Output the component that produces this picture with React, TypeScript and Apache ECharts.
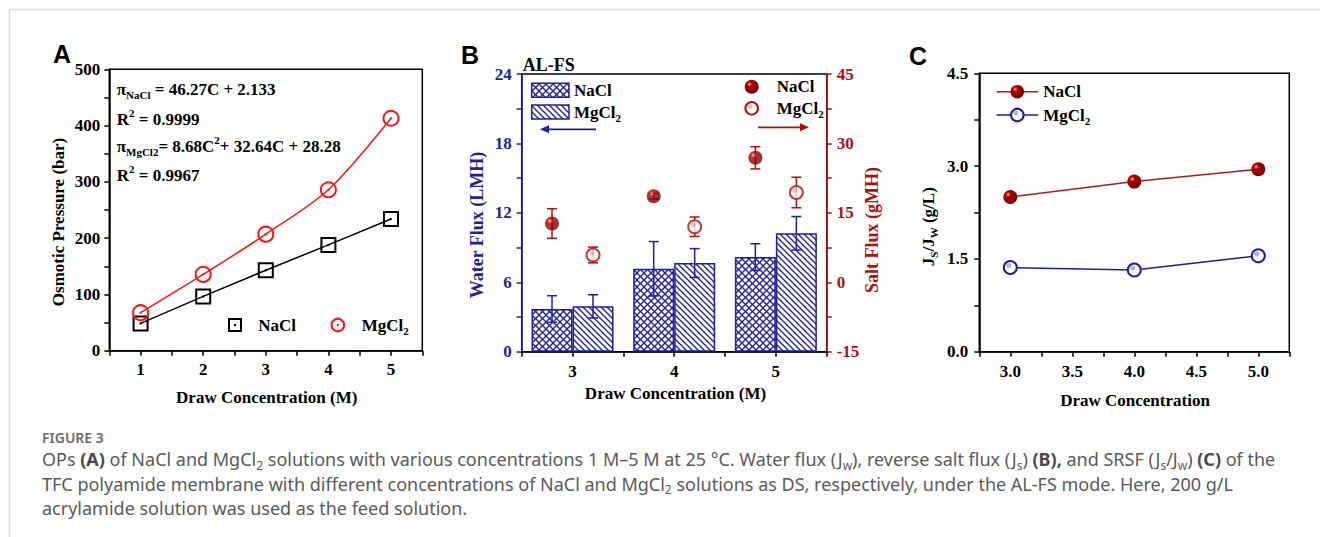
import React, { useEffect, useRef } from 'react';
import * as echarts from 'echarts';

// ---------- data ----------
const concA = [1, 2, 3, 4, 5];
const opNaCl = [48.5, 96.5, 143, 188, 234];
const opMgCl2 = [67.5, 135.5, 207, 286, 413];

const concB = ['3', '4', '5'];
const waterNaCl = [3.69, 7.17, 8.18];
const waterNaClErr = [1.15, 2.35, 1.15];
const waterMgCl2 = [3.92, 7.66, 10.23];
const waterMgCl2Err = [1.0, 1.25, 1.45];
const saltNaCl = [12.7, 18.6, 26.9];
const saltNaClErr = [3.2, 0.6, 2.4];
const saltMgCl2 = [5.9, 12.0, 19.4];
const saltMgCl2Err = [1.7, 2.1, 3.3];

const concC = [3, 4, 5];
const srsfNaCl = [2.5, 2.75, 2.95];
const srsfMgCl2 = [1.36, 1.32, 1.55];

const tickAx = ['1', '2', '3', '4', '5'];
const tickAy = ['0', '100', '200', '300', '400', '500'];
const tickBx = ['3', '4', '5'];
const tickBy = ['0', '6', '12', '18', '24'];
const tickBy2 = ['-15', '0', '15', '30', '45'];
const tickCx = ['3.0', '3.5', '4.0', '4.5', '5.0'];
const tickCy = ['0.0', '1.5', '3.0', '4.5'];

// ---------- styles ----------
const SERIF = '"Liberation Serif", "Times New Roman", Times, serif';
const SANS = '"Liberation Sans", Arial, Helvetica, sans-serif';
const CAP = '"Noto Sans", "Open Sans", sans-serif';
const BLACK = '#000000';
const RED_A = '#ff1414';
const BLUE = '#1f1f9e';
const DRED = '#b00f0f';
const CRED = '#b01a1a';
const CBLUE = '#1c1ca8';

function makeHatch(size: number, cross: boolean, color: string) {
  const c = document.createElement('canvas');
  c.width = size;
  c.height = size;
  const ctx = c.getContext('2d')!;
  ctx.fillStyle = '#ffffff';
  ctx.fillRect(0, 0, size, size);
  ctx.strokeStyle = color;
  ctx.lineWidth = 1.3;
  for (const k of [-1, 0, 1]) {
    ctx.beginPath();
    ctx.moveTo(k * size - 1, -1);
    ctx.lineTo(k * size + size + 1, size + 1);
    ctx.stroke();
    if (cross) {
      ctx.beginPath();
      ctx.moveTo(k * size + size + 1, -1);
      ctx.lineTo(k * size - 1, size + 1);
      ctx.stroke();
    }
  }
  return { image: c, repeat: 'repeat', imageWidth: size, imageHeight: size } as any;
}

function mkAxis(color: string, labels: string[], fmt: (v: number) => string, margin: number) {
  return {
    axisLine: { show: true, onZero: false, lineStyle: { color, width: 1.5 } },
    axisTick: { show: true, length: 5, lineStyle: { color, width: 1.5 } },
    axisLabel: {
      margin,
      color,
      fontFamily: SERIF,
      fontWeight: 'bold',
      fontSize: 17,
      formatter: (v: number) => {
        const s = fmt(v);
        return labels.includes(s) ? s : '';
      },
    },
    splitLine: { show: false },
  };
}

const ball = () =>
  new echarts.graphic.RadialGradient(0.35, 0.32, 0.65, [
    { offset: 0, color: '#f3b0b0' },
    { offset: 0.28, color: '#b00000' },
    { offset: 1, color: '#780000' },
  ]);
const hollow = (hl: string) =>
  new echarts.graphic.RadialGradient(0.38, 0.35, 0.5, [
    { offset: 0, color: hl },
    { offset: 0.3, color: hl },
    { offset: 0.45, color: '#ffffff' },
    { offset: 1, color: '#ffffff' },
  ]);

function rich(size: number, color: string) {
  const sub = Math.round(size * 0.62);
  return {
    n: { fontSize: size, fontFamily: SERIF, fontWeight: 'bold', fill: color, color, lineHeight: size + 6 },
    s: { fontSize: sub, fontFamily: SERIF, fontWeight: 'bold', fill: color, color, lineHeight: sub, verticalAlign: 'bottom' },
    u: { fontSize: sub, fontFamily: SERIF, fontWeight: 'bold', fill: color, color, lineHeight: sub, verticalAlign: 'top' },
  };
}

function txt(x: number, y: number, text: string, o: any = {}) {
  const { rotation, ...style } = o;
  const el: any = {
    type: 'text',
    x,
    y,
    z: 20,
    style: {
      text,
      fontFamily: SERIF,
      fontWeight: 'bold',
      fontSize: 17,
      fill: '#000',
      align: 'left',
      verticalAlign: 'middle',
      ...style,
    },
  };
  if (rotation !== undefined) el.rotation = rotation;
  return el;
}

function errRender(offset: number, color: string) {
  return (params: any, api: any) => {
    const x = api.value(0);
    const lo = api.coord([x, api.value(1)]);
    const hi = api.coord([x, api.value(2)]);
    const cx = lo[0] + offset;
    const cap = 5;
    const st = { stroke: color, lineWidth: 1.5 };
    return {
      type: 'group',
      children: [
        { type: 'line', shape: { x1: cx, y1: lo[1], x2: cx, y2: hi[1] }, style: st },
        { type: 'line', shape: { x1: cx - cap, y1: hi[1], x2: cx + cap, y2: hi[1] }, style: st },
        { type: 'line', shape: { x1: cx - cap, y1: lo[1], x2: cx + cap, y2: lo[1] }, style: st },
      ],
    };
  };
}

function buildOption() {
  const crossPat = makeHatch(7, true, BLUE);
  const diagPat = makeHatch(6, false, BLUE);
  const crossPat2 = makeHatch(7, true, BLUE);
  const diagPat2 = makeHatch(6, false, BLUE);

  const graphic: any[] = [
    // page frame
    { type: 'line', shape: { x1: 10, y1: 9.5, x2: 1320, y2: 9.5 }, style: { stroke: '#dcdcdc', lineWidth: 1.5 } },
    { type: 'line', shape: { x1: 9.5, y1: 9.5, x2: 9.5, y2: 537 }, style: { stroke: '#dcdcdc', lineWidth: 1.5 } },
    // panel letters
    txt(53, 54, 'A', { fontFamily: SANS, fontSize: 25 }),
    txt(461, 55, 'B', { fontFamily: SANS, fontSize: 25 }),
    txt(909, 56, 'C', { fontFamily: SANS, fontSize: 25 }),

    // ---- panel A ----
    txt(116.7, 89.3, '{n|π}{s|NaCl}{n| = 46.27C + 2.133}', { rich: rich(17, '#000') }),
    txt(116.7, 119, '{n|R}{u|2}{n| = 0.9999}', { rich: rich(17, '#000') }),
    txt(116.7, 146, '{n|π}{s|MgCl2}{n|= 8.68C}{u|2}{n|+ 32.64C + 28.28}', { rich: rich(17, '#000') }),
    txt(116.7, 175, '{n|R}{u|2}{n| = 0.9967}', { rich: rich(17, '#000') }),
    txt(58.3, 222, 'Osmotic Pressure (bar)', { align: 'center', rotation: Math.PI / 2 }),
    txt(266.7, 397, 'Draw Concentration (M)', { align: 'center' }),
    { type: 'rect', shape: { x: 229, y: 319, width: 12, height: 12 }, style: { fill: 'none', stroke: BLACK, lineWidth: 2 }, z: 20 },
    { type: 'circle', shape: { cx: 235, cy: 325, r: 1.2 }, style: { fill: BLACK }, z: 20 },
    txt(258.3, 325, 'NaCl'),
    { type: 'circle', shape: { cx: 337.8, cy: 325, r: 6.3 }, style: { fill: 'none', stroke: RED_A, lineWidth: 2 }, z: 20 },
    { type: 'circle', shape: { cx: 337.8, cy: 325, r: 1.2 }, style: { fill: RED_A }, z: 20 },
    txt(361.7, 325, '{n|MgCl}{s|2}', { rich: rich(17, '#000') }),

    // ---- panel B ----
    txt(522.7, 65, 'AL-FS', { fontSize: 18 }),
    { type: 'rect', shape: { x: 531.7, y: 83.3, width: 37.3, height: 14 }, style: { fill: crossPat2, stroke: BLUE, lineWidth: 1.5 }, z: 20 },
    { type: 'rect', shape: { x: 531.7, y: 105, width: 37.3, height: 14 }, style: { fill: diagPat2, stroke: BLUE, lineWidth: 1.5 }, z: 20 },
    txt(574, 90.3, 'NaCl'),
    txt(574, 112, '{n|MgCl}{s|2}', { rich: rich(17, '#000') }),
    { type: 'line', shape: { x1: 596, y1: 129.3, x2: 547, y2: 129.3 }, style: { stroke: BLUE, lineWidth: 1.8 }, z: 20 },
    { type: 'polygon', shape: { points: [[540, 129.3], [549, 125.3], [549, 133.3]] }, style: { fill: BLUE }, z: 20 },
    { type: 'circle', shape: { cx: 751.7, cy: 86.7, r: 7 }, style: { fill: ball() }, z: 20 },
    { type: 'circle', shape: { cx: 751.7, cy: 108.3, r: 6.3 }, style: { fill: hollow('#f0b8b8'), stroke: DRED, lineWidth: 2 }, z: 20 },
    txt(776.7, 86.7, 'NaCl'),
    txt(776.7, 108.3, '{n|MgCl}{s|2}', { rich: rich(17, '#000') }),
    { type: 'line', shape: { x1: 758, y1: 127.3, x2: 802, y2: 127.3 }, style: { stroke: DRED, lineWidth: 1.8 }, z: 20 },
    { type: 'polygon', shape: { points: [[809, 127.3], [800, 123.3], [800, 131.3]] }, style: { fill: DRED }, z: 20 },
    txt(476.7, 225, 'Water Flux (LMH)', { align: 'center', rotation: Math.PI / 2, fill: BLUE, fontSize: 18 }),
    txt(871.7, 230, 'Salt Flux (gMH)', { align: 'center', rotation: Math.PI / 2, fill: DRED, fontSize: 18 }),
    txt(675.5, 393.3, 'Draw Concentration (M)', { align: 'center' }),

    // ---- panel C ----
    { type: 'line', shape: { x1: 996.7, y1: 91.7, x2: 1038.3, y2: 91.7 }, style: { stroke: CRED, lineWidth: 1.5 }, z: 20 },
    { type: 'circle', shape: { cx: 1017.3, cy: 91.7, r: 6.8 }, style: { fill: ball() }, z: 20 },
    { type: 'line', shape: { x1: 996.7, y1: 115, x2: 1038.3, y2: 115 }, style: { stroke: CBLUE, lineWidth: 1.5 }, z: 20 },
    { type: 'circle', shape: { cx: 1017.3, cy: 115, r: 6.3 }, style: { fill: hollow('#b0b0e6'), stroke: CBLUE, lineWidth: 2 }, z: 20 },
    txt(1043.3, 91.7, 'NaCl'),
    txt(1043.3, 115, '{n|MgCl}{s|2}', { rich: rich(17, '#000') }),
    txt(928.3, 226.7, '{n|J}{s|S}{n|/J}{s|W}{n| (g/L)}', { align: 'center', rotation: Math.PI / 2, rich: rich(17, '#000') }),
    txt(1135, 400, 'Draw Concentration', { align: 'center' }),

    // ---- caption ----
    txt(42, 437, 'FIGURE 3', { fontFamily: CAP, fontWeight: 600, fontSize: 14, fill: '#6a6a6a' }),
  ];

  const capRich = {
    n: { fontFamily: CAP, fontSize: 18, fontWeight: 'normal', fill: '#5a5a5a', color: '#5a5a5a', lineHeight: 24 },
    b: { fontFamily: CAP, fontSize: 18, fontWeight: 'bold', fill: '#4a4a4a', color: '#4a4a4a', lineHeight: 24 },
    s: { fontFamily: CAP, fontSize: 12, fontWeight: 'normal', fill: '#5a5a5a', color: '#5a5a5a', lineHeight: 12, verticalAlign: 'bottom' },
  };
  const capLines = [
    '{n|OPs }{b|(A)}{n| of NaCl and MgCl}{s|2}{n| solutions with various concentrations 1 M–5 M at 25 °C. Water flux (J}{s|w}{n|), reverse salt flux (J}{s|s}{n|) }{b|(B),}{n| and SRSF (J}{s|s}{n|/J}{s|w}{n|) }{b|(C)}{n| of the}',
    '{n|TFC polyamide membrane with different concentrations of NaCl and MgCl}{s|2}{n| solutions as DS, respectively, under the AL-FS mode. Here, 200 g/L}',
    '{n|acrylamide solution was used as the feed solution.}',
  ];
  capLines.forEach((l, i) => graphic.push(txt(42, 459 + i * 24.5, l, { rich: capRich, fontFamily: CAP, fontWeight: 'normal' })));

  return {
    animation: false,
    backgroundColor: '#ffffff',
    grid: [
      { left: 109.3, top: 69.3, width: 313, height: 281.4, show: true, borderColor: BLACK, borderWidth: 1.5, outerBoundsMode: 'none' },
      { left: 521.7, top: 74, width: 305, height: 277.7, show: true, borderColor: BLACK, borderWidth: 1.5, outerBoundsMode: 'none' },
      { left: 979.3, top: 73.3, width: 310, height: 278.4, show: true, borderColor: BLACK, borderWidth: 1.5, outerBoundsMode: 'none' },
    ],
    xAxis: [
      { gridIndex: 0, type: 'value', position: 'bottom', min: 0.5, max: 5.5, interval: 0.5, ...mkAxis(BLACK, tickAx, (v) => String(v), 10) },
      { gridIndex: 1, type: 'category', position: 'bottom', data: concB, show: false, axisLine: { onZero: false } },
      { gridIndex: 1, type: 'value', position: 'bottom', min: 2.5, max: 5.5, interval: 0.5, ...mkAxis(BLACK, tickBx, (v) => String(v), 11) },
      { gridIndex: 2, type: 'value', position: 'bottom', min: 2.75, max: 5.25, interval: 0.25, ...mkAxis(BLACK, tickCx, (v) => v.toFixed(1), 11) },
    ],
    yAxis: [
      { gridIndex: 0, type: 'value', position: 'left', min: 0, max: 500, interval: 50, ...mkAxis(BLACK, tickAy, (v) => String(v), 9) },
      { gridIndex: 1, type: 'value', position: 'left', min: 0, max: 24, interval: 3, ...mkAxis(BLUE, tickBy, (v) => String(v), 10) },
      { gridIndex: 1, type: 'value', position: 'right', min: -15, max: 45, interval: 7.5, ...mkAxis(DRED, tickBy2, (v) => String(v), 10) },
      { gridIndex: 2, type: 'value', position: 'left', min: 0, max: 4.5, interval: 0.75, ...mkAxis(BLACK, tickCy, (v) => v.toFixed(1), 11) },
    ],
    series: [
      // panel A
      {
        type: 'line', name: 'NaCl', xAxisIndex: 0, yAxisIndex: 0,
        data: concA.map((c, i) => [c, opNaCl[i]]),
        symbol: 'rect', symbolSize: 14,
        lineStyle: { color: BLACK, width: 1.5 },
        itemStyle: { color: 'rgba(255,255,255,0)', borderColor: BLACK, borderWidth: 2 },
        z: 3,
      },
      {
        type: 'line', name: 'MgCl2', xAxisIndex: 0, yAxisIndex: 0,
        data: concA.map((c, i) => [c, opMgCl2[i]]),
        smooth: 0.3,
        symbol: 'circle', symbolSize: 15,
        lineStyle: { color: RED_A, width: 1.5 },
        itemStyle: { color: 'rgba(255,255,255,0)', borderColor: RED_A, borderWidth: 2 },
        z: 3,
      },
      {
        type: 'scatter', xAxisIndex: 0, yAxisIndex: 0, data: concA.map((c, i) => [c, opNaCl[i]]),
        symbolSize: 2.5, itemStyle: { color: BLACK }, z: 4, silent: true,
      },
      {
        type: 'scatter', xAxisIndex: 0, yAxisIndex: 0, data: concA.map((c, i) => [c, opMgCl2[i]]),
        symbolSize: 2.5, itemStyle: { color: RED_A }, z: 4, silent: true,
      },
      // panel B bars
      {
        type: 'bar', name: 'NaCl water', xAxisIndex: 1, yAxisIndex: 1, data: waterNaCl,
        barWidth: 41, barGap: '0%',
        itemStyle: { color: crossPat, borderColor: BLUE, borderWidth: 1.5 },
        z: 2,
      },
      {
        type: 'bar', name: 'MgCl2 water', xAxisIndex: 1, yAxisIndex: 1, data: waterMgCl2,
        barWidth: 41, barGap: '0%',
        itemStyle: { color: diagPat, borderColor: BLUE, borderWidth: 1.5 },
        z: 2,
      },
      {
        type: 'custom', xAxisIndex: 1, yAxisIndex: 1,
        data: waterNaCl.map((v, i) => [i, v - waterNaClErr[i], v + waterNaClErr[i]]),
        encode: { x: 0, y: [1, 2] }, renderItem: errRender(-20.5, BLUE), z: 3,
      },
      {
        type: 'custom', xAxisIndex: 1, yAxisIndex: 1,
        data: waterMgCl2.map((v, i) => [i, v - waterMgCl2Err[i], v + waterMgCl2Err[i]]),
        encode: { x: 0, y: [1, 2] }, renderItem: errRender(20.5, BLUE), z: 3,
      },
      {
        type: 'custom', xAxisIndex: 1, yAxisIndex: 2,
        data: saltNaCl.map((v, i) => [i, v - saltNaClErr[i], v + saltNaClErr[i]]),
        encode: { x: 0, y: [1, 2] }, renderItem: errRender(-20.5, DRED), z: 4,
      },
      {
        type: 'custom', xAxisIndex: 1, yAxisIndex: 2,
        data: saltMgCl2.map((v, i) => [i, v - saltMgCl2Err[i], v + saltMgCl2Err[i]]),
        encode: { x: 0, y: [1, 2] }, renderItem: errRender(20.5, DRED), z: 4,
      },
      {
        type: 'scatter', name: 'NaCl salt', xAxisIndex: 1, yAxisIndex: 2, data: saltNaCl,
        symbol: 'circle', symbolSize: 14, symbolOffset: [-20.5, 0],
        itemStyle: { color: ball() }, z: 5,
      },
      {
        type: 'scatter', name: 'MgCl2 salt', xAxisIndex: 1, yAxisIndex: 2, data: saltMgCl2,
        symbol: 'circle', symbolSize: 13, symbolOffset: [20.5, 0],
        itemStyle: { color: hollow('#f0b8b8'), borderColor: DRED, borderWidth: 2 }, z: 5,
      },
      // panel C
      {
        type: 'line', name: 'NaCl', xAxisIndex: 3, yAxisIndex: 3,
        data: concC.map((c, i) => [c, srsfNaCl[i]]),
        symbol: 'circle', symbolSize: 14,
        lineStyle: { color: CRED, width: 1.5 },
        itemStyle: { color: ball() },
        z: 3,
      },
      {
        type: 'line', name: 'MgCl2', xAxisIndex: 3, yAxisIndex: 3,
        data: concC.map((c, i) => [c, srsfMgCl2[i]]),
        symbol: 'circle', symbolSize: 13,
        lineStyle: { color: CBLUE, width: 1.5 },
        itemStyle: { color: hollow('#b0b0e6'), borderColor: CBLUE, borderWidth: 2 },
        z: 3,
      },
    ],
    graphic,
  };
}

export default function App() {
  const ref = useRef<HTMLDivElement>(null);
  useEffect(() => {
    if (!ref.current) return;
    const chart = echarts.init(ref.current, null, { renderer: 'svg', width: 1320, height: 537 });
    chart.setOption(buildOption() as any);
    return () => chart.dispose();
  }, []);
  return (
    <div
      ref={ref}
      style={{ position: 'absolute', left: 0, top: 0, width: 1320, height: 537, background: '#ffffff' }}
    />
  );
}
